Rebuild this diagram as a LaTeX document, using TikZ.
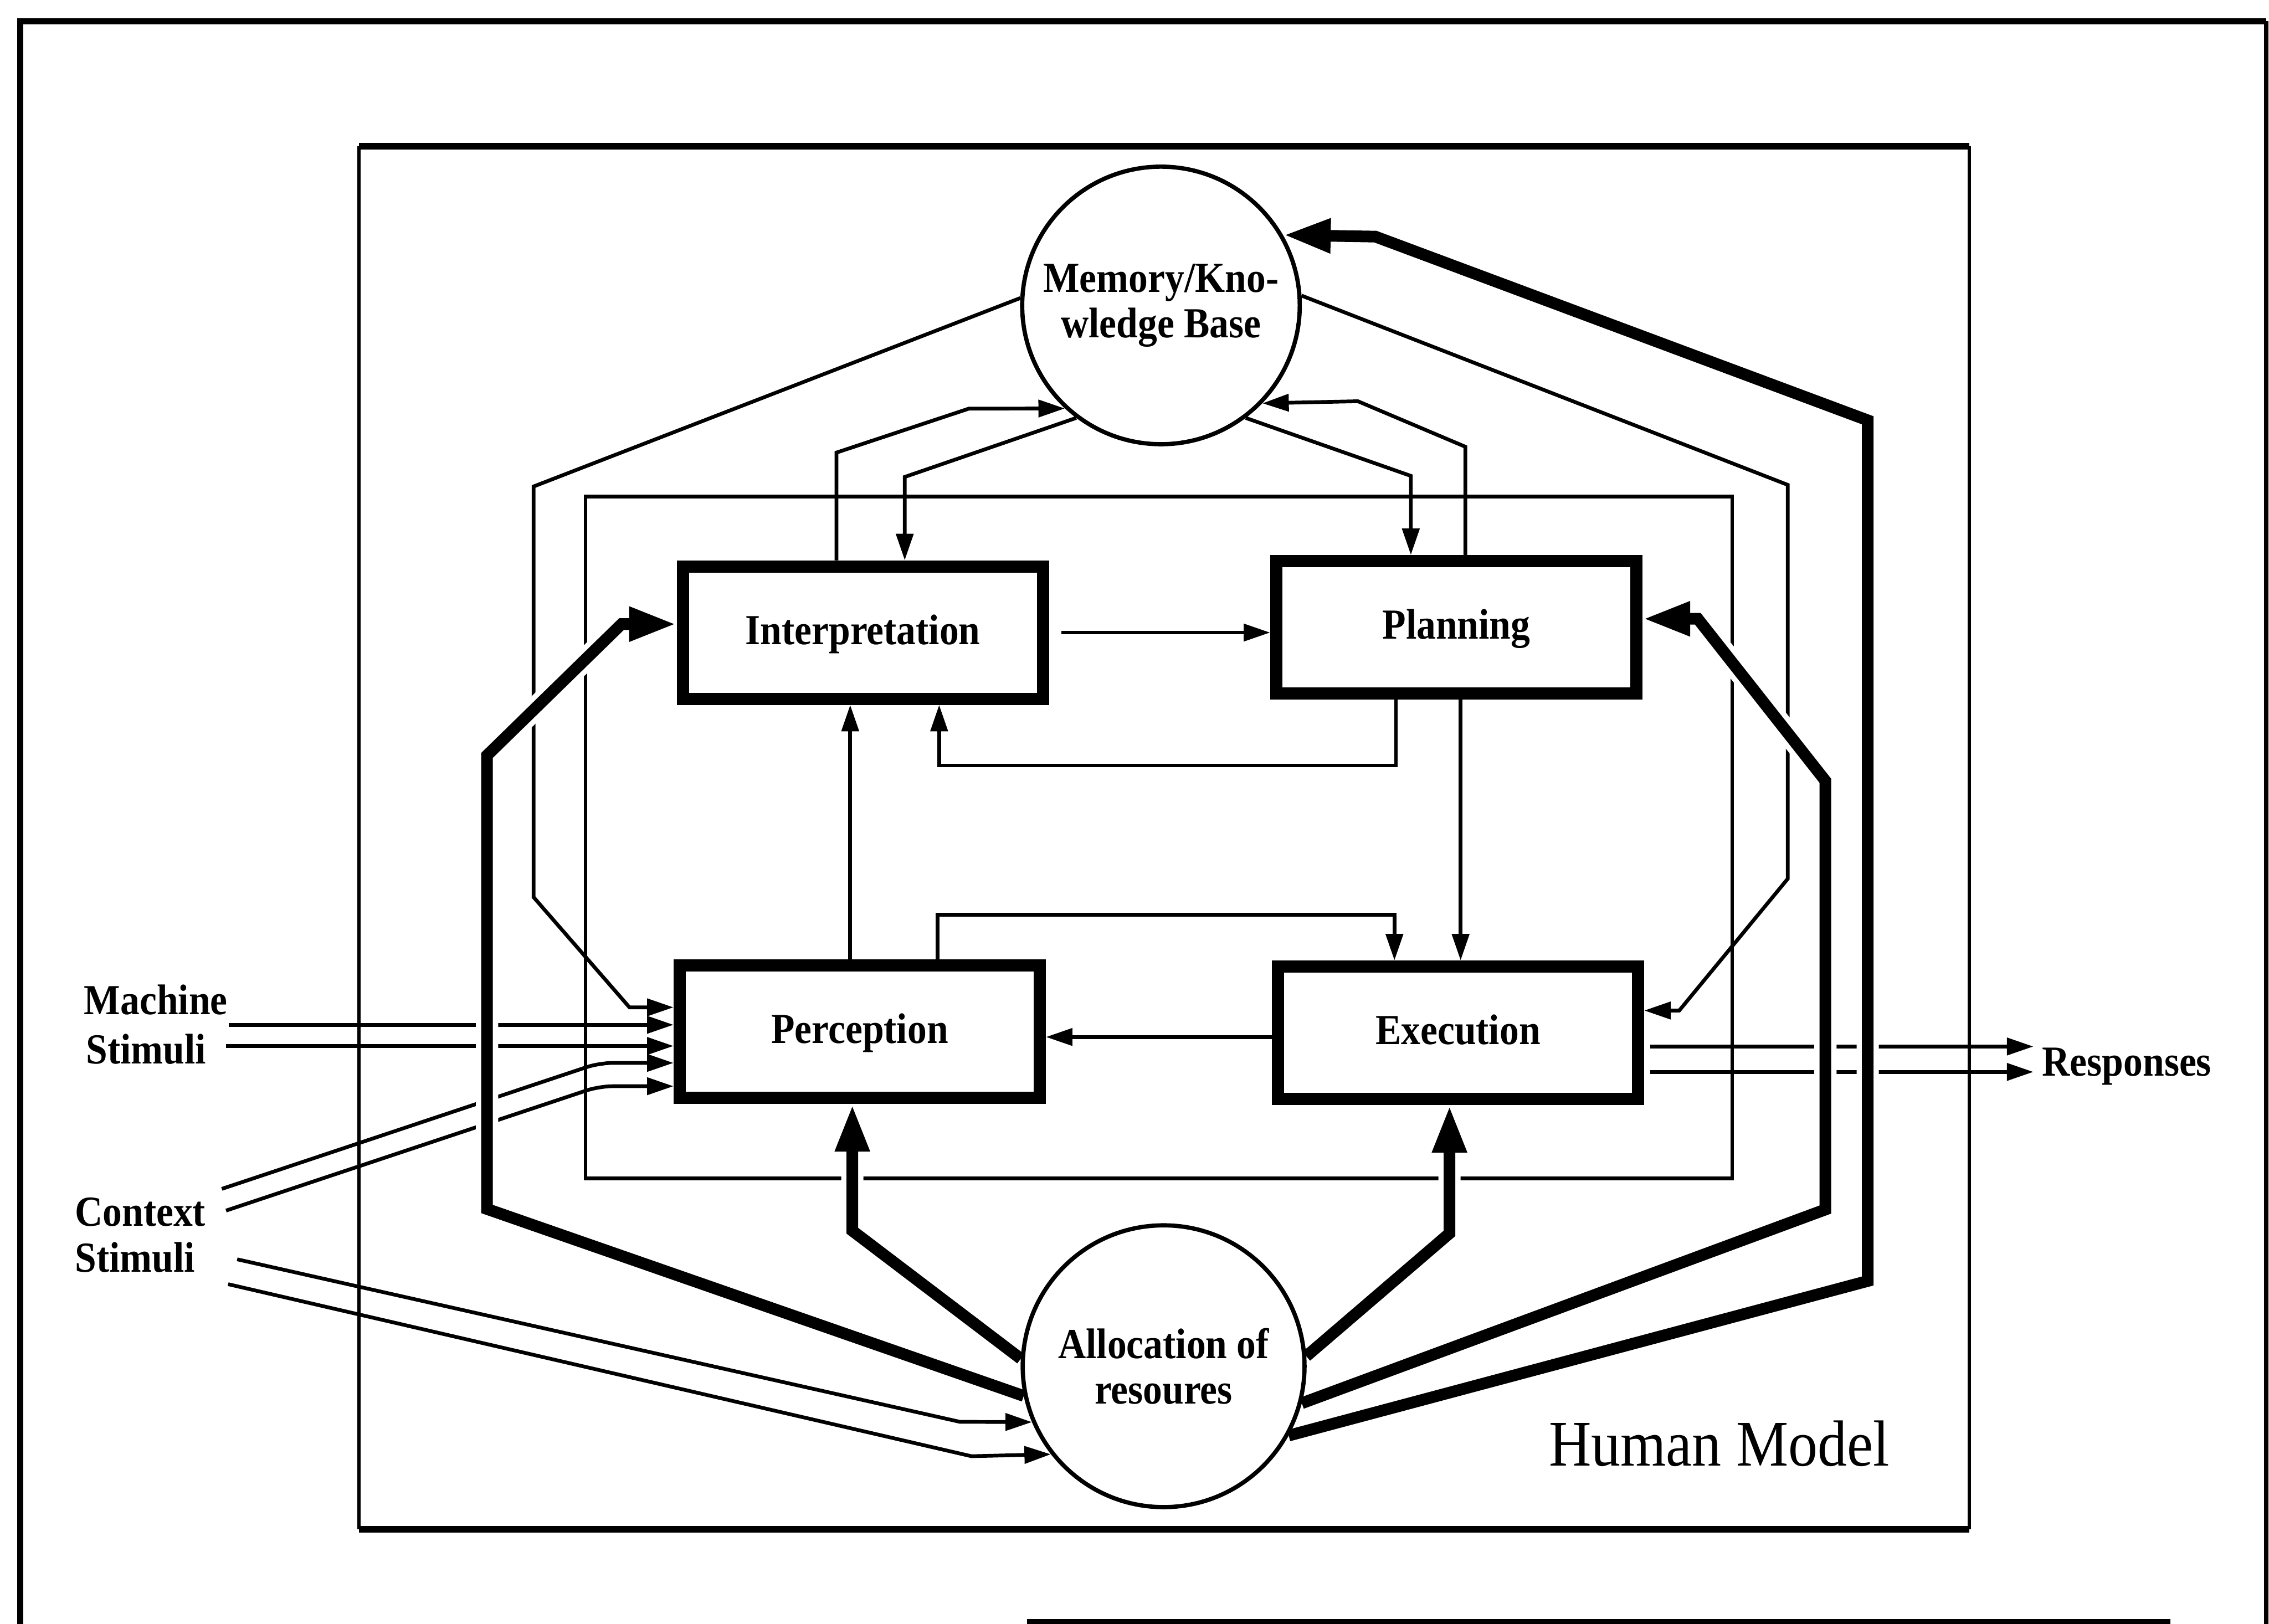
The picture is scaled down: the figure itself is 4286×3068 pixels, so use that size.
\documentclass[tikz,border=0pt]{standalone}
\usepackage{fontspec}
\setmainfont{Liberation Serif}
\newfontfamily\labfont[FakeStretch=0.9]{Liberation Serif}
\usetikzlibrary{arrows.meta}
\pgfdeclarelayer{fg}
\pgfsetlayers{main,fg}

\begin{document}
\begin{tikzpicture}[x=0.01cm,y=-0.01cm,
  lab/.style={font=\labfont\bfseries\fontsize{23}{24.2}\selectfont},
  txt/.style={lab, inner sep=0pt, anchor=base west},
  unit/.style={draw, line width=0.23cm, fill=white, minimum width=6.8cm,
    minimum height=2.5cm, inner sep=0pt, text height=0.5cm, text depth=0.06cm, lab},
  store/.style={draw, circle, line width=0.08cm, fill=white, inner sep=0pt,
    align=center, lab},
  link/.style={line width=0.07cm},
  flow/.style={link, -{Triangle[length=0.5cm,width=0.32cm]}},
  feed/.style={line width=0.22cm,
    preaction={draw=white, line width=0.42cm, -},
    -{Triangle[length=0.9cm,width=0.6cm]}},
]
\useasboundingbox (0,0) rectangle (4286,3068);

% sheet border
\draw[line width=0.12cm] (4281,40) -- (38,40) -- (38,3068);
\draw[line width=0.08cm] (4281,40) -- (4281,3068);
\draw[line width=0.1cm] (1940,3064) -- (4100,3064);

% model frame
\draw[line width=0.12cm] (678,276) -- (3720,276);
\draw[line width=0.12cm] (678,2889) -- (3720,2889);
\draw[line width=0.07cm] (678,276) -- (678,2889);
\draw[line width=0.07cm] (3720,276) -- (3720,2889);

% inner loop frame
\draw[link] (1106,938) rectangle (3272,2226);

% processing units and stores
\begin{pgfonlayer}{fg}
\node[unit] (interp) at (1630,1195) {Interpretation};
\node[unit] (plan)   at (2751,1185) {Planning};
\node[unit] (perc)   at (1624,1949) {Perception};
\node[unit] (exec)   at (2754,1951) {Execution};
\node[store, minimum size=5.24cm] (mem)   at (2193,577)  {Memory/Kno-\\wledge Base};
\node[store, minimum size=5.32cm] (alloc) at (2198,2581) {Allocation of\\resoures};
\end{pgfonlayer}

% labels
\node[txt] (mach1) at (158,1916) {Machine};
\node[txt] (mach2) at (162,2010) {Stimuli};
\node[txt] (ctx1)  at (141,2316) {Context};
\node[txt] (ctx2)  at (141,2403) {Stimuli};
\node[txt] (resp)  at (3857,2033) {Responses};
\node[inner sep=0pt, anchor=base west, font=\labfont\fontsize{35}{40}\selectfont]
  (hm) at (2925,2769) {Human Model};

% free ends of the stimulus and response lines
\coordinate (ms1) at (432,1936);
\coordinate (ms2) at (427,1976);
\coordinate (cs1) at (419,2246);
\coordinate (cs2) at (427,2287);
\coordinate (cs3) at (448,2379);
\coordinate (cs4) at (431,2426);
\coordinate (re1) at (3841,1977);
\coordinate (re2) at (3841,2025);

% memory exchanges
\draw[flow] (1580,0 |- interp.north) -- (1580,855) -- (1830,772) -- (mem.227);
\draw[flow] (mem.233) -- (1709,901) -- (1709,0 |- interp.north);
\draw[flow] (mem.307) -- (2665,899) -- (2665,0 |- plan.north);
\draw[flow] (2768,0 |- plan.north) -- (2768,844) -- (2565,758) -- (mem.316);
\draw[flow] (mem.177) -- (1008,919) -- (1008,1695) -- (1189,1903) -- (perc.west |- 0,1903);
\draw[flow] (mem.4) -- (3377,916) -- (3377,1660) -- (3172,1909) -- (exec.east |- 0,1909);

% unit to unit
\draw[flow, shorten <=0.23cm] (interp.east) -- (interp.east -| plan.west);
\draw[flow] (2637,0 |- plan.south) -- (2637,1446) -- (1774,1446) -- (1774,0 |- interp.south);
\draw[flow] (2759,0 |- plan.south) -- (2759,0 |- exec.north);
\draw[flow] (1606,0 |- perc.north) -- (1606,0 |- interp.south);
\draw[flow] (1771,0 |- perc.north) -- (1771,1728) -- (2634,1728) -- (2634,0 |- exec.north);
\draw[flow] (exec.west |- 0,1959) -- (perc.east |- 0,1959);

% stimuli
\draw[flow] (ms1) -- (perc.west |- ms1);
\draw[flow] (ms2) -- (perc.west |- ms2);
\draw[flow, rounded corners=0.25cm] (cs1) -- (1132,2008) -- (perc.west |- 0,2008);
\draw[flow, rounded corners=0.25cm] (cs2) -- (1132,2052) -- (perc.west |- 0,2052);
\draw[flow] (cs3) -- (1813,2686) -- (alloc.203);
\draw[flow] (cs4) -- (1835,2751) -- (alloc.218);

% responses
\draw[flow, shorten <=0.11cm] (exec.east |- re1) -- (re1);
\draw[flow, shorten <=0.11cm] (exec.east |- re2) -- (re2);

% resource allocation
\draw[feed] (alloc.192) -- (920,2284) -- (920,1427) -- (1174,1179) -- (interp.west |- 0,1179);
\draw[feed] (alloc.177) -- (1610,2325) -- (1610,0 |- perc.south);
\draw[feed] (alloc.4) -- (2738,2330) -- (2738,0 |- exec.south);
\draw[feed] (alloc.345) -- (3448,2285) -- (3448,1475) -- (3207,1169) -- (plan.east |- 0,1169);
\draw[feed] (alloc.331) -- (3528,2420) -- (3528,794) -- (2598,447) -- (mem.30);
\end{tikzpicture}
\end{document}
